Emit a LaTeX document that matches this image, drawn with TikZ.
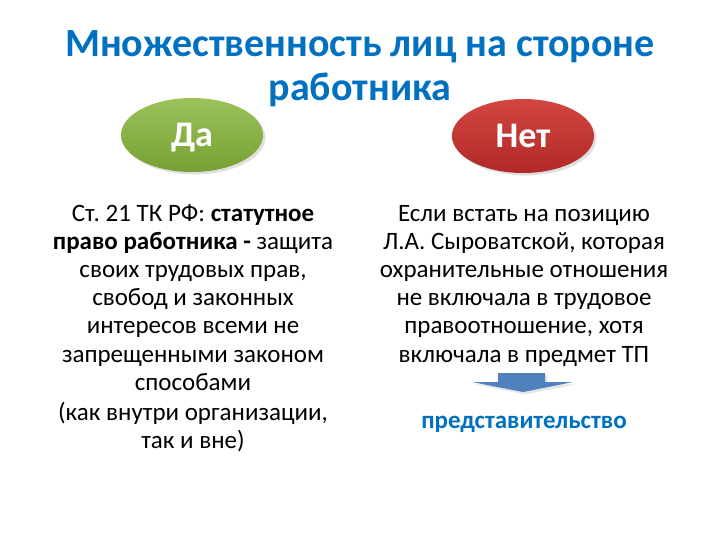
\documentclass[tikz,border=0pt]{standalone}
\usepackage{fontspec}
\setmainfont{Carlito}
\frenchspacing
\usetikzlibrary{shapes.geometric,shadows}
\definecolor{titleblue}{HTML}{0070C0}
\definecolor{greentop}{HTML}{9CC25A}
\definecolor{greenbot}{HTML}{76A033}
\definecolor{redtop}{HTML}{D2463F}
\definecolor{redbot}{HTML}{B02828}
\definecolor{arrowblue}{HTML}{4F81BD}
\tikzset{
  oval/.style={ellipse, minimum width=142pt, minimum height=74pt, inner sep=0pt,
    text height=23pt, text depth=0pt,
    text=white, font=\fontsize{36}{36}\selectfont\bfseries},
  bodytext/.style={align=center, font=\fontsize{25}{28.2}\selectfont, text=black, inner sep=0pt},
}
\begin{document}
\begin{tikzpicture}[x=1pt,y=-1pt]
\useasboundingbox (0,0) rectangle (720,540);
\fill[white] (0,0) rectangle (720,540);
\node[align=center, text=titleblue, font=\fontsize{40}{44}\selectfont\bfseries, inner sep=0pt, anchor=base] (title) at (360,101)
  {Множественность лиц на стороне\\работника};
\node[oval, top color=greentop, bottom color=greenbot, drop shadow={opacity=0.25}] (da) at (192,135) {Да};
\node[oval, top color=redtop, bottom color=redbot, drop shadow={opacity=0.25}] (net) at (523,136) {Нет};
\node[bodytext, anchor=base] (left) at (193,448.4)
  {Ст.\ 21 ТК РФ: \textbf{статутное}\\
   \textbf{право работника -} защита\\
   своих трудовых прав,\\
   свобод и законных\\
   интересов всеми не\\
   запрещенными законом\\
   способами\\[1.8pt]
   (как внутри организации,\\
   так и вне)};
\node[bodytext, anchor=base] (right) at (524,362)
  {Если встать на позицию\\
   Л.А. Сыроватской, которая\\
   охранительные отношения\\
   не включала в трудовое\\
   правоотношение, хотя\\
   включала в предмет ТП};
\fill[arrowblue, drop shadow={opacity=0.2}] (498,373) -- (545,373) -- (545,382) -- (573,382) -- (523,392) -- (472,382) -- (498,382) -- cycle;
\node[text=titleblue, font=\fontsize{25}{28}\selectfont\bfseries, inner sep=0pt, anchor=base] (rep) at (524,428) {представительство};
\end{tikzpicture}
\end{document}
